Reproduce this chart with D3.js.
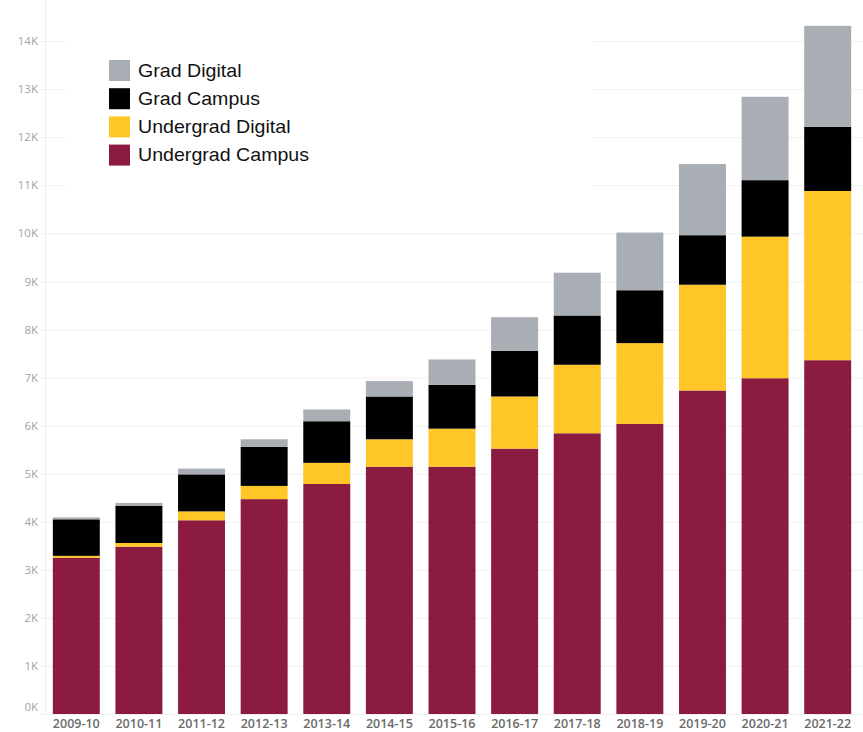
<!DOCTYPE html>
<html>
<head>
<meta charset="utf-8">
<script src="https://cdn.jsdelivr.net/npm/d3@7"></script>
<style>
  html, body { margin: 0; padding: 0; background: #fff; }
  svg { display: block; }
</style>
</head>
<body>
<svg id="chart" width="863" height="732"></svg>
<script>
const years = ["2009-10","2010-11","2011-12","2012-13","2013-14","2014-15","2015-16","2016-17","2017-18","2018-19","2019-20","2020-21","2021-22"];
const undergradCampus  = [3250, 3480, 4030, 4470, 4785, 5145, 5145, 5520, 5840, 6035, 6730, 6985, 7360];
const undergradDigital = [  40,   77,  185,  275,  440,  570,  790, 1085, 1425, 1680, 2200, 2945, 3520];
const gradCampus       = [ 760,  777,  770,  810,  865,  890,  910,  950, 1025, 1100, 1030, 1175, 1335];
const gradDigital      = [  40,   57,  120,  160,  245,  320,  530,  700,  890, 1200, 1480, 1735, 2100];
const seriesNames = ["Undergrad Campus", "Undergrad Digital", "Grad Campus", "Grad Digital"];
const seriesColors = ["#8b1c3f", "#ffc627", "#000000", "#a9aeb5"];
const yTicks = [0,1000,2000,3000,4000,5000,6000,7000,8000,9000,10000,11000,12000,13000,14000];
const legendOrder = ["Grad Digital", "Grad Campus", "Undergrad Digital", "Undergrad Campus"];

const rows = years.map((y, i) => ({
  year: y,
  "Undergrad Campus": undergradCampus[i],
  "Undergrad Digital": undergradDigital[i],
  "Grad Campus": gradCampus[i],
  "Grad Digital": gradDigital[i]
}));

const svg = d3.select("#chart");
const x0 = 45, x1 = 859, yBottom = 714, yTop = 41;

const x = d3.scaleBand().domain(years).range([x0, x1]).paddingInner(0.25).paddingOuter(0.125);
const y = d3.scaleLinear().domain([0, 14000]).range([yBottom, yTop]);
const color = d3.scaleOrdinal().domain(seriesNames).range(seriesColors);

// vertical axis line
svg.append("line").attr("x1", 45.5).attr("x2", 45.5).attr("y1", 0).attr("y2", yBottom)
  .attr("stroke", "#ececec").attr("stroke-width", 1);

// y axis with gridlines
const yAxis = svg.append("g")
  .attr("transform", `translate(${x0},0)`)
  .call(d3.axisLeft(y).tickValues(yTicks).tickSize(-(863 - x0)).tickSizeOuter(0).tickPadding(7)
    .tickFormat(d => (d / 1000) + "K"));
yAxis.select(".domain").remove();
yAxis.selectAll(".tick line").attr("stroke", "#f0f0f0").attr("x1", -5);
yAxis.selectAll(".tick text")
  .attr("fill", "#a3a3a3")
  .attr("font-family", "'Open Sans', sans-serif")
  .attr("font-size", "11.5px");
yAxis.selectAll(".tick").filter(d => d === 0).select("text").attr("dy", "-0.3em");

// white legend panel hiding gridlines
svg.append("rect").attr("x", 66).attr("y", 12).attr("width", 527).attr("height", 190).attr("fill", "#fff");

// stacked bars
const stack = d3.stack().keys(seriesNames);
const layers = stack(rows);
svg.append("g").selectAll("g")
  .data(layers).join("g")
  .attr("fill", d => color(d.key))
  .selectAll("rect")
  .data(d => d).join("rect")
  .attr("x", d => x(d.data.year))
  .attr("width", x.bandwidth())
  .attr("y", d => y(d[1]))
  .attr("height", d => y(d[0]) - y(d[1]));

// x axis
const xAxis = svg.append("g")
  .attr("transform", `translate(0,${yBottom})`)
  .call(d3.axisBottom(x).tickSize(0).tickPadding(5));
xAxis.select(".domain").remove();
xAxis.selectAll(".tick text")
  .attr("fill", "#6a6a6a")
  .attr("font-family", "'Open Sans', sans-serif")
  .attr("font-weight", "600")
  .attr("font-size", "12.5px");

// legend
const legend = svg.append("g");
legendOrder.forEach((name, i) => {
  const ly = 60 + i * 28.2;
  legend.append("rect").attr("x", 109).attr("y", ly).attr("width", 21).attr("height", 21)
    .attr("fill", color(name));
  legend.append("text")
    .attr("transform", `translate(138,${ly + 16.5}) scale(1.09,1)`)
    .attr("font-family", "'Liberation Sans', Arial, sans-serif")
    .attr("font-size", "18px")
    .attr("fill", "#111")
    .text(name);
});
</script>
</body>
</html>
